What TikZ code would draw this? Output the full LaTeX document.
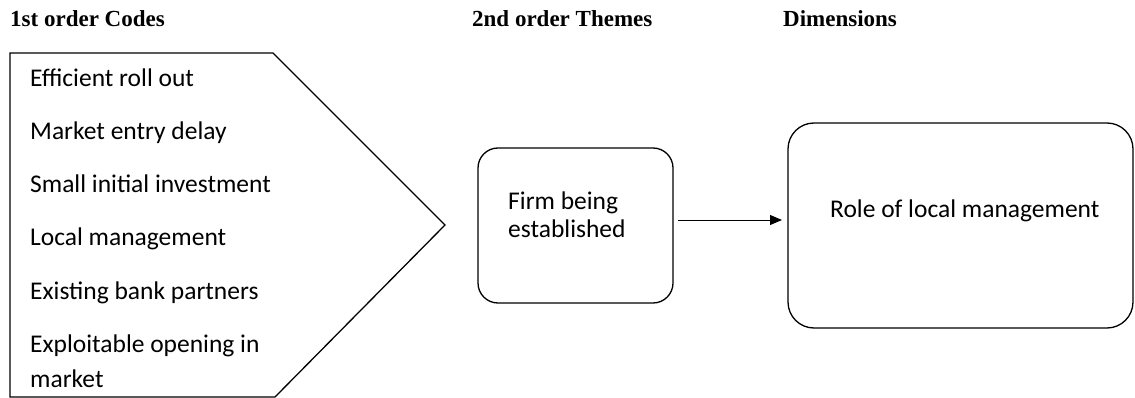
\documentclass[tikz,border=0pt]{standalone}
\usepackage{fontspec}
\setmainfont{Carlito}
\newfontfamily\headfont{Liberation Serif}
\usetikzlibrary{arrows.meta}
\tikzset{
  hdr/.style={anchor=base west, inner sep=0pt, font=\headfont\bfseries\fontsize{23}{26}\selectfont},
  code/.style={anchor=base west, inner sep=0pt, font=\fontsize{25.5}{30}\selectfont},
  rbox/.style={draw, line width=1.3pt, rounded corners=20pt},
  lnk/.style={line width=0.9pt, -{Triangle[length=12pt,width=10pt]}}
}
\begin{document}
\begin{tikzpicture}[x=1pt,y=-1pt]
\useasboundingbox (0,0) rectangle (1135,398);
% headers
\node[hdr] (h1) at (10,27) {1st order Codes};
\node[hdr] (h2) at (472,27) {2nd order Themes};
\node[hdr] (h3) at (783,27) {Dimensions};
% pentagon
\draw[line width=1.3pt] (10,53) -- (273,53) -- (445,225) -- (275,397) -- (10,397) -- cycle;
\node[code] (c1) at (30,87) {Efficient roll out};
\node[code] (c2) at (30,140) {Market entry delay};
\node[code] (c3) at (30,193) {Small initial investment};
\node[code] (c4) at (30,246) {Local management};
\node[code] (c5) at (30,299) {Existing bank partners};
\node[code] (c6) at (30,352) {Exploitable opening in};
\node[code] (c7) at (30,387) {market};
% theme box
\draw[rbox] (478,148) rectangle (673,303);
\coordinate (b1) at (673,220);
\node[code] (t1) at (508,210) {Firm being};
\node[code] (t2) at (508,237) {established};
% dimension box
\draw[rbox, rounded corners=26pt] (788,123) rectangle (1133,328);
\coordinate (b2) at (788,220);
\node[code] (d1) at (830,218) {Role of local management};
% arrow
\draw[lnk] ([xshift=5pt]b1) -- ([xshift=-6pt]b2);
\end{tikzpicture}
\end{document}
